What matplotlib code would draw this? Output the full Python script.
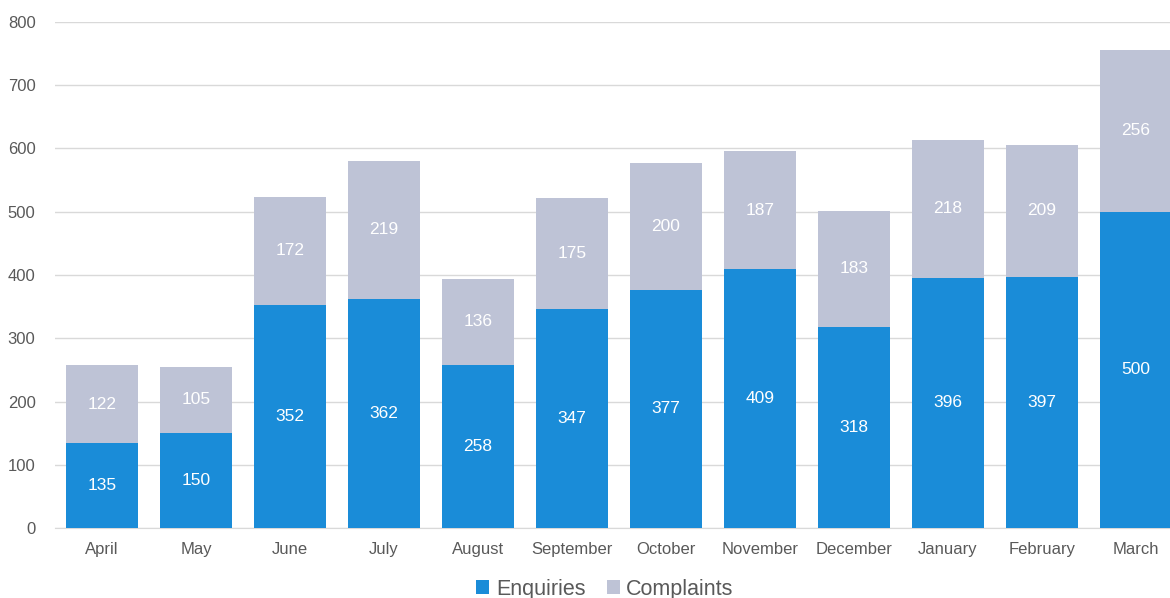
import matplotlib.pyplot as plt
import numpy as np

months = ['April', 'May', 'June', 'July', 'August', 'September', 'October',
          'November', 'December', 'January', 'February', 'March']
enquiries = [135, 150, 352, 362, 258, 347, 377, 409, 318, 396, 397, 500]
complaints = [122, 105, 172, 219, 136, 175, 200, 187, 183, 218, 209, 256]

plt.rcParams['font.family'] = ['Liberation Sans', 'DejaVu Sans']

fig = plt.figure(figsize=(11.7, 5.98), dpi=100)
# axes runs past the right edge, so the last bar is cut like the original
ax = fig.add_axes([55 / 1170, 70 / 598, 1128 / 1170, 506 / 598])

x = np.arange(len(months))
w = 0.77
b1 = ax.bar(x, enquiries, w, color='#1a8cd8', label='Enquiries', zorder=3)
b2 = ax.bar(x, complaints, w, bottom=enquiries, color='#bec3d6', label='Complaints', zorder=3)

ax.bar_label(b1, label_type='center', color='white', fontsize=12.5)
ax.bar_label(b2, label_type='center', color='white', fontsize=12.5)

ax.set_xlim(-0.5, 11.5)
ax.set_ylim(0, 800)
ax.set_yticks(range(0, 801, 100))
ax.set_xticks(x)
ax.set_xticklabels(months)
ax.tick_params(axis='both', length=0, labelsize=12, colors='#595959')
ax.tick_params(axis='x', pad=10)
ax.tick_params(axis='y', pad=14)
ax.yaxis.grid(True, color='#d9d9d9', linewidth=1, zorder=0)

for s in ['top', 'right', 'left']:
    ax.spines[s].set_visible(False)
ax.spines['bottom'].set_color('#d9d9d9')

leg = ax.legend(loc='center', bbox_to_anchor=(605 / 1170, 9 / 598),
                bbox_transform=fig.transFigure, ncol=2, frameon=False,
                fontsize=15.5, handlelength=0.6, handleheight=0.6,
                handletextpad=0.3, columnspacing=1.0)
for t in leg.get_texts():
    t.set_color('#595959')

fig.savefig('out.png', dpi=100)
